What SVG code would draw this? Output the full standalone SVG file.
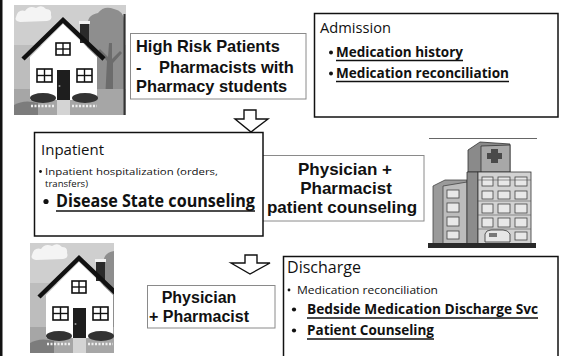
<svg xmlns="http://www.w3.org/2000/svg" xmlns:xlink="http://www.w3.org/1999/xlink" width="563" height="356" viewBox="0 0 563 356">
  <style>
    .cal { font-family: "Open Sans", "Noto Sans", "Liberation Sans", sans-serif; fill: #111; }
    .ari { font-family: "Liberation Sans", Arial, sans-serif; font-weight: bold; fill: #111; }
    .b { font-weight: bold; }
    .box { fill: #fff; stroke: #111; stroke-width: 1.5; }
    .lbox { fill: #fff; stroke: #8a8a8a; stroke-width: 1; }
    .ul { stroke: #111; stroke-width: 1.6; }
    .arrow { fill: #fff; stroke: #111; stroke-width: 1.4; stroke-linejoin: miter; }
    .win { fill: #fff; stroke: #111; stroke-width: 1.6; }
    .hwin { fill: #e8e8e8; stroke: #444; stroke-width: 0.8; }
  </style>
  <defs>
    <!-- cottage clip art, drawn in a 112 x 110 box -->
    <g id="houseArt">
      <rect x="0" y="0" width="112" height="110" fill="#cfcfcf"/>
      <rect x="0" y="40" width="112" height="45" fill="#bdbdbd"/>
      <path d="M2 12 q2 -8 9 -6 q4 -6 11 -3 q6 -4 10 1 q6 0 5 6 q2 5 -4 6 l-27 1 q-6 -1 -4 -5z" fill="#f4f4f4"/>
      <path d="M74 22 q-2 -12 10 -14 q6 -8 16 -4 q10 2 10 12 l0 70 l-34 0 q-6 -20 -2 -40 q-4 -12 0 -24z" fill="#8e8e8e"/>
      <path d="M91 96 l2 -40 l-9 -10 l2 -2 l8 8 l1 -14 l3 0 l0 16 l8 -8 l2 2 l-9 10 l0 38z" fill="#6c6c6c"/>
      <rect x="0" y="84" width="112" height="26" fill="#a6a6a6"/>
      <path d="M0 100 q10 -6 24 -2 l0 12 l-24 0z" fill="#7c7c7c"/>
      <polygon points="16,52 49,19 83,52 83,95 16,95" fill="#fff"/>
      <rect x="66" y="18" width="9" height="20" fill="#2a2a2a"/>
      <rect x="65" y="16" width="11" height="3" fill="#f2f2f2"/>
      <polyline points="9,54 49,15 90,54" fill="none" stroke="#111" stroke-width="4.5"/>
      <g>
        <rect class="win" x="42" y="38" width="14" height="12"/>
        <line x1="49" y1="38" x2="49" y2="50" stroke="#111" stroke-width="1.4"/>
        <line x1="42" y1="44" x2="56" y2="44" stroke="#111" stroke-width="1.4"/>
        <rect class="win" x="23" y="64" width="15" height="13"/>
        <line x1="30.5" y1="64" x2="30.5" y2="77" stroke="#111" stroke-width="1.4"/>
        <line x1="23" y1="70.5" x2="38" y2="70.5" stroke="#111" stroke-width="1.4"/>
        <rect class="win" x="63" y="64" width="15" height="13"/>
        <line x1="70.5" y1="64" x2="70.5" y2="77" stroke="#111" stroke-width="1.4"/>
        <line x1="63" y1="70.5" x2="78" y2="70.5" stroke="#111" stroke-width="1.4"/>
      </g>
      <rect x="43" y="65" width="13" height="30" fill="#1e1e1e"/>
      <circle cx="45.5" cy="81" r="1" fill="#999"/>
      <rect x="43" y="95" width="13" height="15" fill="#d4d4d4"/>
      <ellipse cx="29" cy="93" rx="13" ry="5" fill="#333"/>
      <ellipse cx="71" cy="93" rx="13" ry="5" fill="#333"/>
      <path d="M17 101 h24 M58 101 h25" stroke="#eee" stroke-width="2.5" stroke-dasharray="2 1.5"/>
      <line x1="110.5" y1="9" x2="110.5" y2="110" stroke="#333" stroke-width="2"/>
    </g>
    <clipPath id="houseCrop"><rect x="0" y="0" width="84" height="110"/></clipPath>
  </defs>

  <!-- left page edge -->
  <rect x="0" y="0" width="2.5" height="356" fill="#111"/>

  <!-- home (admission) -->
  <g id="home-top">
    <use xlink:href="#houseArt" x="14" y="5"/>
  </g>

  <!-- high risk patients note -->
  <g id="high-risk">
    <rect class="lbox" x="130.5" y="33.5" width="175.5" height="65.5"/>
    <text class="ari" font-size="16.4" x="136" y="52">High Risk Patients</text>
    <text class="ari" font-size="16.4" x="136" y="73">-</text>
    <text class="ari" font-size="16.4" x="159" y="73">Pharmacists with</text>
    <text class="ari" font-size="16.4" x="136" y="92">Pharmacy students</text>
  </g>

  <!-- admission -->
  <g id="admission">
    <rect class="box" x="314.5" y="13.5" width="243.5" height="103.5"/>
    <text class="cal" font-size="15" x="320" y="33" textLength="71" lengthAdjust="spacingAndGlyphs">Admission</text>
    <circle cx="331" cy="52.5" r="2" fill="#111"/>
    <text class="cal b" font-size="15" x="336" y="57" textLength="127" lengthAdjust="spacingAndGlyphs">Medication history</text>
    <line class="ul" x1="336" y1="60.5" x2="463" y2="60.5"/>
    <circle cx="331" cy="73.5" r="2" fill="#111"/>
    <text class="cal b" font-size="15" x="336" y="78" textLength="173" lengthAdjust="spacingAndGlyphs">Medication reconciliation</text>
    <line class="ul" x1="336" y1="81.5" x2="509" y2="81.5"/>
  </g>

  <!-- flow arrows -->
  <g id="connectors">
    <polygon class="arrow" points="244,110 256,110 256,119 268,119 251,132 235,119 244,119"/>
    <polygon class="arrow" points="245,255 257,255 257,263 270,263 250,274 231,263 245,263"/>
  </g>

  <!-- physician + pharmacist counseling note -->
  <g id="counseling">
    <rect class="lbox" x="262.5" y="155.5" width="161.5" height="65.5"/>
    <text class="ari" font-size="17" x="345" y="175" text-anchor="middle">Physician +</text>
    <text class="ari" font-size="17" x="346" y="194" text-anchor="middle">Pharmacist</text>
    <text class="ari" font-size="17" x="342" y="213" text-anchor="middle">patient counseling</text>
  </g>

  <!-- inpatient -->
  <g id="inpatient">
    <rect class="box" x="34.5" y="132.5" width="228.5" height="103.5"/>
    <text class="cal" font-size="15" x="41" y="155" textLength="63" lengthAdjust="spacingAndGlyphs">Inpatient</text>
    <circle cx="40.5" cy="171.5" r="1.4" fill="#111"/>
    <text class="cal" font-size="9.8" x="45" y="175" textLength="173" lengthAdjust="spacingAndGlyphs">Inpatient hospitalization (orders,</text>
    <text class="cal" font-size="9.8" x="45" y="187" textLength="43" lengthAdjust="spacingAndGlyphs">transfers)</text>
    <circle cx="46" cy="201.5" r="2.6" fill="#111"/>
    <text class="cal b" font-size="17" x="56" y="207" textLength="199" lengthAdjust="spacingAndGlyphs">Disease State counseling</text>
    <line class="ul" x1="56" y1="211" x2="255" y2="211"/>
  </g>

  <!-- hospital -->
  <g id="hospital">
    <line x1="429" y1="138.5" x2="537" y2="138.5" stroke="#666" stroke-width="1"/>
    <!-- left wing -->
    <polygon points="433,186 445,180 467,180 467,245 433,245" fill="#9a9a9a" stroke="#444" stroke-width="0.8"/>
    <polygon points="443,186 467,182 467,245 443,245" fill="#bcbcbc" stroke="#444" stroke-width="0.8"/>
    <!-- tower -->
    <polygon points="468,150 480,142 510,144 510,172 468,172" fill="#8a8a8a" stroke="#333" stroke-width="0.8"/>
    <polygon points="481,146 510,145 510,172 481,172" fill="#a8a8a8" stroke="#333" stroke-width="0.8"/>
    <path d="M491 149 h7 v4 h4 v6 h-4 v4 h-7 v-4 h-4 v-6 h4z" fill="#4a4a4a"/>
    <!-- main block -->
    <polygon points="467,172 478,172 478,245 467,245" fill="#8c8c8c" stroke="#333" stroke-width="0.8"/>
    <rect x="478" y="172" width="53" height="73" fill="#d2d2d2" stroke="#333" stroke-width="0.8"/>
    <g>
      <rect class="hwin" x="482" y="177" width="11" height="9"/><rect class="hwin" x="498" y="177" width="12" height="9"/><rect class="hwin" x="515" y="177" width="12" height="9"/>
      <rect class="hwin" x="482" y="191" width="11" height="8"/><rect class="hwin" x="498" y="191" width="12" height="8"/><rect class="hwin" x="515" y="191" width="12" height="8"/>
      <rect class="hwin" x="482" y="204" width="11" height="9"/><rect class="hwin" x="498" y="204" width="12" height="9"/><rect class="hwin" x="515" y="204" width="12" height="9"/>
      <rect class="hwin" x="482" y="218" width="11" height="9"/><rect class="hwin" x="498" y="218" width="12" height="9"/><rect class="hwin" x="515" y="218" width="12" height="9"/>
      <rect class="hwin" x="447" y="190" width="12" height="8"/>
      <rect class="hwin" x="447" y="203" width="12" height="9"/>
      <rect class="hwin" x="447" y="217" width="12" height="9"/>
      <rect class="hwin" x="447" y="231" width="12" height="8"/>
      <rect class="hwin" x="515" y="232" width="12" height="8"/>
    </g>
    <path d="M478 180 h53 M478 201 h53 M478 215 h53 M478 229 h53" stroke="#555" stroke-width="0.6"/>
    <!-- vehicle at the entrance -->
    <path d="M485 242 v-8 q1 -4 6 -4 h12 q5 0 7 4 v8z" fill="#e6e6e6" stroke="#333" stroke-width="0.8"/>
    <rect x="489" y="233" width="8" height="4" fill="#777"/>
    <rect x="428" y="243" width="108" height="5" fill="#2a2a2a"/>
  </g>

  <!-- home (discharge) -->
  <g id="home-bottom">
    <svg x="30" y="243" width="84" height="110" viewBox="0 0 84 110" overflow="hidden">
      <use xlink:href="#houseArt" clip-path="url(#houseCrop)"/>
    </svg>
  </g>

  <!-- physician + pharmacist note -->
  <g id="follow-up">
    <rect class="lbox" x="147.5" y="285.5" width="127.5" height="42.5"/>
    <text class="ari" font-size="16" x="199" y="303" text-anchor="middle">Physician</text>
    <text class="ari" font-size="16" x="199" y="322" text-anchor="middle">+ Pharmacist</text>
  </g>

  <!-- discharge -->
  <g id="discharge">
    <rect class="box" x="283.5" y="256.5" width="274.5" height="110"/>
    <text class="cal" font-size="15.5" x="287" y="273" textLength="74" lengthAdjust="spacingAndGlyphs">Discharge</text>
    <circle cx="289" cy="290" r="1.4" fill="#111"/>
    <text class="cal" font-size="10.5" x="297" y="294" textLength="141" lengthAdjust="spacingAndGlyphs">Medication reconciliation</text>
    <circle cx="294" cy="309.5" r="2.1" fill="#111"/>
    <text class="cal b" font-size="15" x="307" y="314" textLength="231" lengthAdjust="spacingAndGlyphs">Bedside Medication Discharge Svc</text>
    <line class="ul" x1="307" y1="318" x2="538" y2="318"/>
    <circle cx="294" cy="330.5" r="2.1" fill="#111"/>
    <text class="cal b" font-size="15" x="307" y="335" textLength="127" lengthAdjust="spacingAndGlyphs">Patient Counseling</text>
    <line class="ul" x1="307" y1="339" x2="434" y2="339"/>
  </g>
</svg>
